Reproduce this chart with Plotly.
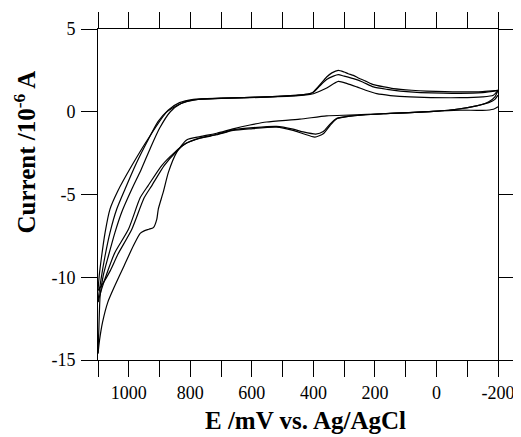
import plotly.graph_objects as go

# cyclic voltammogram, 3 cycles, E in mV, I in 1e-6 A
# lower branches (scan -200 -> 1100)
e_low1 = [-200, -185, -150, -77, 10, 173, 281, 357, 444, 552, 606, 661, 714, 768, 812,
          844, 871, 888, 904, 909, 920, 935, 950, 963, 985, 1015, 1045, 1068, 1085, 1095, 1100]
i_low1 = [0.30, 0.15, 0.08, 0.10, 0.02, -0.12, -0.20, -0.25, -0.45, -0.62, -0.80, -1.03, -1.30, -1.50, -1.70,
          -2.44, -3.65, -4.86, -5.88, -6.50, -7.00, -7.10, -7.20, -7.35, -8.10, -9.30, -10.5, -11.5, -12.7, -13.8, -14.6]

e_low2 = [-200, -190, -170, -150, -130, -77, 10, 173, 281, 324, 346, 368, 395, 433, 466, 520, 606, 661, 714, 768,
          817, 850, 893, 937, 963, 1001, 1045, 1066, 1088, 1100]
i_low2 = [1.29, 0.90, 0.60, 0.45, 0.36, 0.18, 0.02, -0.12, -0.26, -0.42, -0.83, -1.33, -1.53, -1.33, -1.13, -0.93, -1.03, -1.13, -1.39, -1.60,
          -1.94, -2.44, -3.25, -4.46, -5.20, -7.10, -8.50, -9.50, -10.7, -11.5]

e_low3 = [-200, -190, -170, -150, -130, -77, 10, 173, 281, 324, 346, 368, 392, 433, 466, 520, 606, 661, 714, 768,
          815, 845, 885, 925, 950, 990, 1035, 1060, 1085, 1100]
i_low3 = [1.00, 0.75, 0.55, 0.45, 0.36, 0.18, 0.02, -0.12, -0.26, -0.40, -0.75, -1.20, -1.35, -1.22, -1.05, -0.88, -0.98, -1.10, -1.36, -1.58,
          -1.92, -2.40, -3.25, -4.46, -5.20, -7.10, -8.60, -9.60, -10.4, -10.8]

# upper branches (scan 1100 -> -200)
e_up1 = [1100, 1097, 1093, 1083, 1066, 1045, 1023, 990, 960, 930, 900, 865, 830, 790, 700, 552, 450, 411, 400, 380,
         357, 340, 319, 300, 287, 270, 254, 230, 205, 170, 140, 80, 32, -77, -150, -200]
i_up1 = [-14.6, -13.0, -11.1, -9.9, -8.7, -7.3, -6.07, -4.67, -3.5, -2.2, -1.0, 0.0, 0.5, 0.72, 0.82, 0.90, 1.00, 1.10, 1.20, 1.60,
         2.10, 2.35, 2.50, 2.40, 2.30, 2.20, 2.04, 1.85, 1.64, 1.50, 1.40, 1.30, 1.25, 1.20, 1.22, 1.29]

e_up2 = [1100, 1099, 1090, 1077, 1061, 1039, 1012, 975, 940, 905, 872, 835, 790, 700, 552, 450, 411, 400, 380,
         357, 335, 319, 300, 270, 240, 205, 160, 118, -22, -150, -200]
i_up2 = [-11.5, -11.3, -10.1, -8.7, -7.3, -5.88, -4.67, -3.1, -1.8, -0.6, 0.1, 0.55, 0.75, 0.82, 0.90, 1.00, 1.10, 1.18, 1.55,
         1.95, 2.15, 2.24, 2.15, 2.00, 1.80, 1.50, 1.35, 1.25, 1.12, 1.15, 1.29]

e_up3 = [1100, 1096, 1088, 1077, 1061, 1036, 990, 937, 877, 830, 785, 700, 552, 450, 411, 400, 360,
         319, 290, 259, 230, 194, 150, 86, -77, -150, -185, -200]
i_up3 = [-10.8, -9.9, -8.7, -7.3, -5.88, -4.8, -3.25, -1.63, -0.02, 0.5, 0.72, 0.80, 0.88, 0.97, 1.05, 1.09, 1.40,
         1.84, 1.70, 1.50, 1.30, 1.09, 0.98, 0.90, 0.85, 0.90, 1.00, 1.29]

x_ticks = [1100, 1000, 900, 800, 700, 600, 500, 400, 300, 200, 100, 0, -100, -200]
x_text = ["", "1000", "", "800", "", "600", "", "400", "", "200", "", "0", "", "-200"]
y_ticks = [5, 0, -5, -10, -15]
y_text = ["5", "0", "-5", "-10", "-15"]

serif = "Liberation Serif, Times New Roman, serif"

fig = go.Figure()
for e, i in [(e_low1, i_low1), (e_low2, i_low2), (e_low3, i_low3),
             (e_up1, i_up1), (e_up2, i_up2), (e_up3, i_up3)]:
    fig.add_trace(go.Scatter(x=e, y=i, mode="lines",
                             line=dict(color="black", width=1.2, shape="spline", smoothing=0.6),
                             showlegend=False, hoverinfo="skip"))

axis_style = dict(showline=True, linecolor="black", linewidth=1, mirror="ticks",
                  ticks="outside", ticklen=16, tickcolor="black", tickwidth=1,
                  showgrid=False, zeroline=False, automargin=False,
                  tickfont=dict(family=serif, size=18, color="black"))

# page body has an 8px margin, so the figure is a bit smaller than the window
fig.update_layout(
    width=513, height=429,
    margin=dict(l=90, r=23, t=21, b=77),
    plot_bgcolor="white", paper_bgcolor="white",
    xaxis=dict(range=[1100, -200], tickmode="array", tickvals=x_ticks, ticktext=x_text, **axis_style),
    yaxis=dict(range=[-15, 5], tickmode="array", tickvals=y_ticks, ticktext=y_text,
               ticklabelstandoff=2, **axis_style),
    annotations=[
        dict(text="<b>Current /10<sup>-6</sup> A</b>", xref="paper", yref="paper",
             x=-0.1825, y=0.627, xanchor="center", yanchor="middle", textangle=-90,
             showarrow=False, font=dict(family=serif, size=25, color="black")),
        dict(text="<b>E /mV vs. Ag/AgCl</b>", xref="paper", yref="paper",
             x=0.5175, y=-0.184, xanchor="center", yanchor="middle",
             showarrow=False, font=dict(family=serif, size=25, color="black")),
    ],
)

fig.write_html("out.html")
